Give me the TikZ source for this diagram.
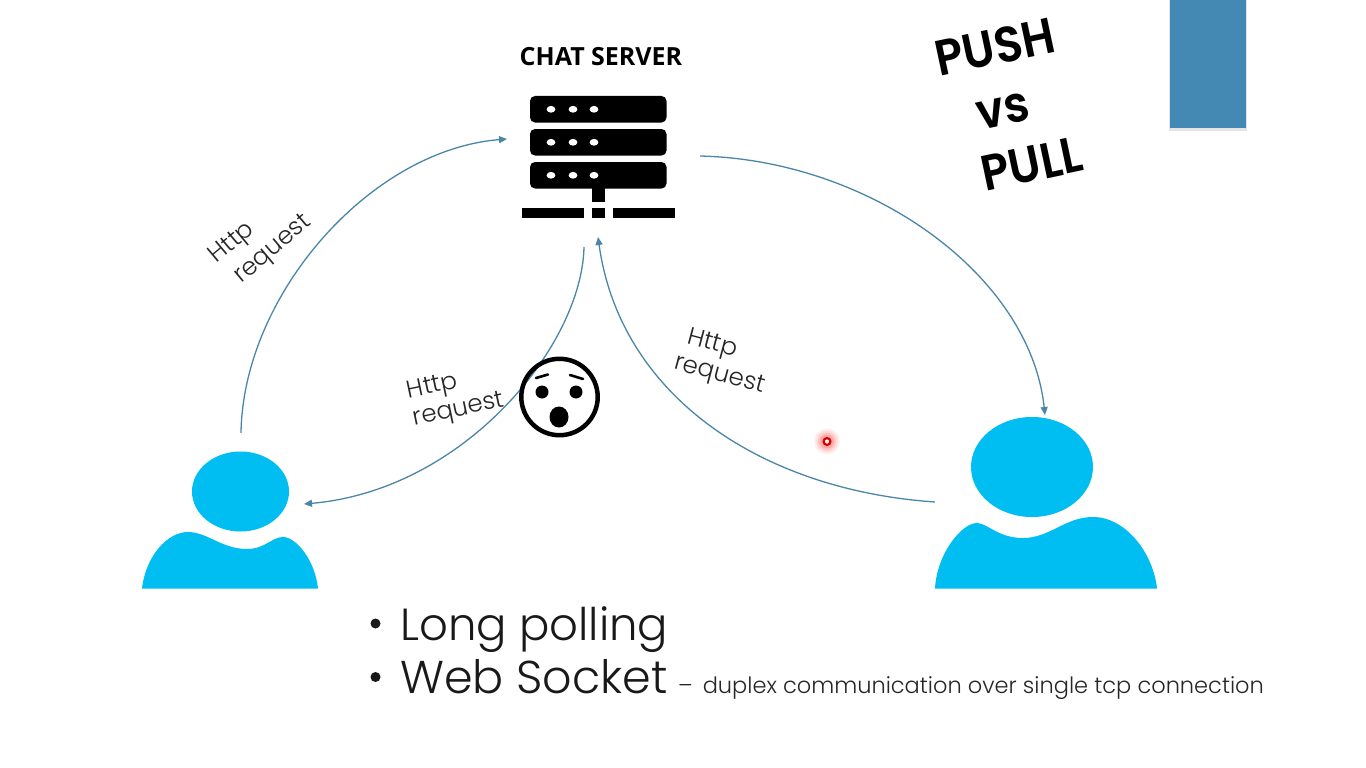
\documentclass[tikz,border=0pt]{standalone}
\usepackage{fontspec}
\setmainfont{Poppins Light}
\newfontfamily\headfont{Open Sans}
\newfontfamily\pushfont{Poppins SemiBold}
\usetikzlibrary{arrows.meta}
\definecolor{arc}{HTML}{4A86A8}
\definecolor{userblue}{HTML}{00BDF2}
\definecolor{tab}{HTML}{4389B3}
\tikzset{
  conn/.style={draw=arc,line width=1.3pt,-{Triangle[length=8pt,width=7pt]}},
  lbl/.style={font=\fontsize{24.5}{28}\selectfont,align=left,text=black!85,inner sep=0pt},
  hand/.style={font=\pushfont\fontsize{50}{50}\selectfont,inner sep=0pt,rotate=12,xscale=.92},
  big/.style={font=\fontsize{46}{50}\selectfont,anchor=base west,inner sep=0pt,text=black!90},
  rack/.style={fill=black,rounded corners=5pt},
  bar/.style={fill=black},
  led/.style={fill=white,draw=none},
  user/.style={fill=userblue,draw=none}
}
\begin{document}
\begin{tikzpicture}[x=1pt,y=-1pt]
\useasboundingbox[fill=white] (0,0) rectangle (1366,768);
% blue tab
\fill[black,opacity=.10] (1169,0) rectangle (1247,131);
\fill[tab] (1170,0) rectangle (1246,128);
% server
\node[font=\headfont\bfseries\fontsize{25}{25}\selectfont,inner sep=0pt] (title) at (601,57) {CHAT SERVER};
\foreach \y in {96,129,162}{
  \fill[rack] (530,\y) rectangle (666.5,\y+26.5);
  \foreach \x in {551,573,594}{\fill[led] (\x,\y+13.3) ellipse (4.4pt and 3.4pt);}
}
\fill[bar] (592,188) rectangle (604.5,202);
\fill[bar] (521.5,208) rectangle (583.5,218);
\fill[bar] (592,208) rectangle (604.5,218);
\fill[bar] (613,208) rectangle (675,218);
% anchors of connectors
\coordinate (srvL) at (507,139);
\coordinate (srvR) at (700,156);
\coordinate (srvB) at (584,247);
\coordinate (srvA) at (598,237);
\coordinate (uL) at (241,433);
\coordinate (uLin) at (304,504);
\coordinate (uR) at (1045,415);
\coordinate (uRout) at (935,502);
% users
\fill[user] (240.5,491.5) ellipse (48.5pt and 40pt);
\fill[user] (142,588.5) .. controls (146,555) and (168,532) .. (188,532)
  .. controls (207,532) and (222,549) .. (247,549)
  .. controls (265,549) and (272,537) .. (283,537)
  .. controls (296,537) and (315,560) .. (318,588.5) -- cycle;
\fill[user] (1032,467) ellipse (61pt and 50pt);
\fill[user] (935,588.5) .. controls (937,553) and (962,523) .. (977,523)
  .. controls (987,523) and (998,538) .. (1023,538)
  .. controls (1050,538) and (1065,517) .. (1093,517)
  .. controls (1125,517) and (1153,552) .. (1157,588.5) -- cycle;
% connectors
\draw[conn] (uL) .. controls (243,295) and (370,150) .. (srvL);
\draw[conn] (srvR) .. controls (870,160) and (1030,275) .. (uR);
\draw[conn] (srvB) .. controls (582,345) and (465,490) .. (uLin);
\draw[conn] (uRout) .. controls (760,490) and (620,395) .. (srvA);
% face
\draw[black,line width=4.5pt] (559.5,397) circle (38.2pt);
\fill (542,392) circle (6.5pt);
\fill (576,392) circle (6.5pt);
\fill (559,417) ellipse (9.5pt and 10.5pt);
\draw[line width=2.6pt,line cap=round] (536,378) -- (548,374.5);
\draw[line width=2.6pt,line cap=round] (570,375) -- (583,379);
% labels
\node[lbl,rotate=40] (l1) at (261,240) {Http\\[3pt]\hspace*{6pt}request};
\node[lbl,rotate=12] (l2) at (456,397) {Http\\request};
\node[lbl,rotate=-15] (l3) at (723,362) {\hspace*{6pt}Http\\request};
\node[hand] (push) at (995,47) {PUSH};
\node[hand] (vs) at (1003,111) {vs};
\node[hand] (pull) at (1032,164) {PULL};
% pointer
\foreach \r/\o in {13/.06,11/.08,9/.1,7/.15}{\fill[red,opacity=\o] (827,441.5) circle (\r pt);}
\draw[red!85!black,line width=2.2pt,fill=white] (827,441.5) circle (3.4pt);
% bullets
\node[big,font=\fontsize{45}{50}\selectfont] (b1) at (400,640) {Long polling};
\node[big] (b2) at (400,693) {Web Socket};
\fill[black!90] (375.5,623.5) circle (5pt);
\fill[black!90] (375.5,677) circle (5pt);
\node[font=\fontsize{22.5}{26}\selectfont,anchor=base west,inner sep=0pt,text=black!85] (note) at (678,693) {–\hspace{10pt}duplex communication over single tcp connection};
\end{tikzpicture}
\end{document}
